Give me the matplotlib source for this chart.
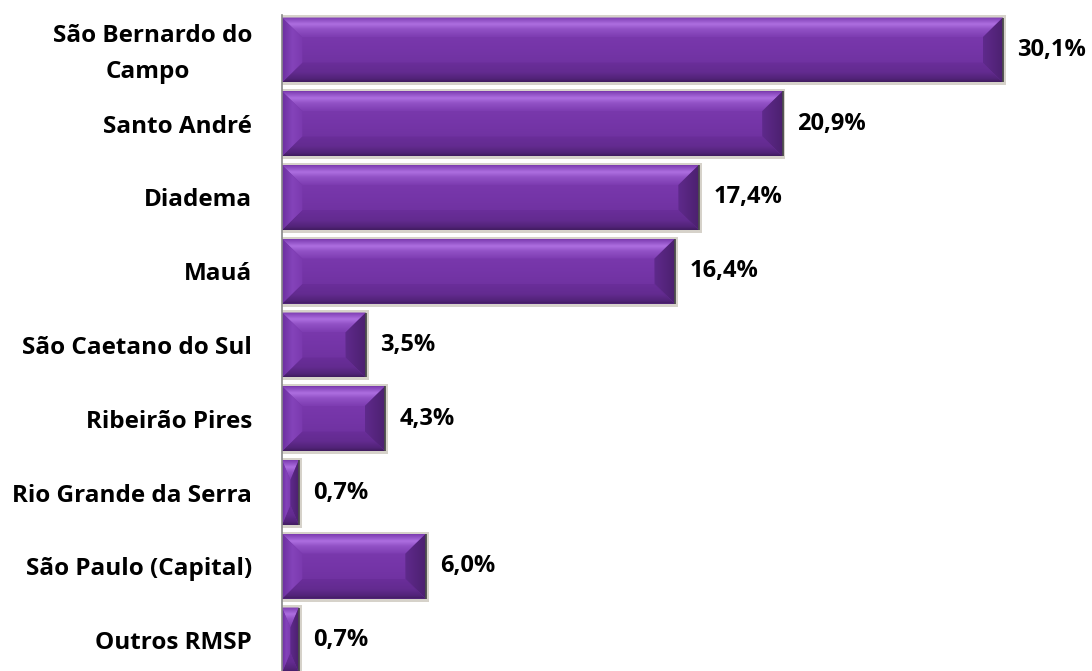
import numpy as np
import matplotlib.pyplot as plt
from matplotlib.patches import Polygon, Rectangle
from matplotlib.colors import to_rgb

plt.rcParams['font.family'] = ['Open Sans', 'DejaVu Sans']

municipios = ['São Bernardo do\nCampo', 'Santo André', 'Diadema', 'Mauá',
              'São Caetano do Sul', 'Ribeirão Pires', 'Rio Grande da Serra',
              'São Paulo (Capital)', 'Outros RMSP']
percentuais = [30.1, 20.9, 17.4, 16.4, 3.5, 4.3, 0.7, 6.0, 0.7]

BAR_H = 0.88
BEV_X = 0.85   # bevel width in data units (x)
BEV_Y = 0.27   # bevel height in data units (y)
FS = 17.5


def gradient_fill(ax, verts, extent, stops, horizontal=False):
    # paint a linear gradient clipped to the polygon given by verts
    n = 64
    t = np.linspace(0, 1, n)
    pos = [s[0] for s in stops]
    cols = np.array([to_rgb(s[1]) for s in stops])
    img = np.stack([np.interp(t, pos, cols[:, k]) for k in range(3)], axis=-1)
    img = img[np.newaxis, :, :] if horizontal else img[:, np.newaxis, :]
    poly = Polygon(verts, closed=True, facecolor='none', edgecolor='none')
    ax.add_patch(poly)
    im = ax.imshow(img, extent=extent, origin='upper', aspect='auto',
                   interpolation='bilinear', zorder=3)
    im.set_clip_path(poly)


def bevel_bar(ax, y, w):
    top = y - BAR_H / 2
    bot = y + BAR_H / 2
    bx = min(BEV_X, w / 2)
    by = BEV_Y
    # soft shadow/frame around the bar
    ax.add_patch(Rectangle((0, top - 0.03), w + 0.12, BAR_H + 0.07,
                           facecolor='#d6d2ca', edgecolor='none', zorder=1))
    ax.add_patch(Rectangle((0, top), w, BAR_H, facecolor='#7636a8',
                           edgecolor='none', zorder=2))
    # face
    gradient_fill(ax, [(bx, top + by), (w - bx, top + by), (w - bx, bot - by), (bx, bot - by)],
                  (0, w, bot, top),
                  [(0, '#7a38ad'), (0.25, '#7a39ad'), (0.5, '#7535a8'),
                   (0.75, '#6f32a0'), (1, '#6a2f99')])
    # top bevel
    gradient_fill(ax, [(0, top), (w, top), (w - bx, top + by), (bx, top + by)],
                  (0, w, top + by, top),
                  [(0, '#7c3bb0'), (0.35, '#ad6fe0'), (0.6, '#9252c6'), (1, '#7d3cb1')])
    # bottom bevel
    gradient_fill(ax, [(bx, bot - by), (w - bx, bot - by), (w, bot), (0, bot)],
                  (0, w, bot, bot - by),
                  [(0, '#6a2e9a'), (0.5, '#632b90'), (0.85, '#512377'), (1, '#3f1b5e')])
    # left bevel
    gradient_fill(ax, [(0, top), (bx, top + by), (bx, bot - by), (0, bot)],
                  (0, bx, bot, top),
                  [(0, '#6c2fa0'), (0.5, '#8443ba'), (1, '#7a39ae')], horizontal=True)
    # right bevel
    gradient_fill(ax, [(w, top), (w - bx, top + by), (w - bx, bot - by), (w, bot)],
                  (w - bx, w, bot, top),
                  [(0, '#5f2a8c'), (1, '#4c206f')], horizontal=True)
    # dark right edge
    ax.plot([w, w], [top, bot], color='#4a4a4a', lw=1.3, zorder=4,
            solid_capstyle='butt')


fig = plt.figure(figsize=(10.92, 6.71), dpi=100)
ax = fig.add_axes([282 / 1092, 0, 1 - 282 / 1092, 1 - 15 / 671])

y = np.arange(len(municipios))
for yi, v in zip(y, percentuais):
    bevel_bar(ax, yi, v)
    ax.text(v + 0.6, yi, f'{v:.1f}%'.replace('.', ','), va='center', ha='left',
            fontsize=17, fontweight='bold', color='black', zorder=5)

ax.set_xlim(0, (1092 - 282) / 23.95)
ax.set_ylim(8 + 31 / 73.75, -35 / 73.75)
ax.set_yticks(y)
# single-line names go on the ticks, the two-line name is placed line by line
ax.set_yticklabels([m if '\n' not in m else '' for m in municipios],
                   fontsize=FS, fontweight='bold', ha='right')
ax.tick_params(axis='y', length=0, pad=21.6)
line_pos = [(-21.6, 10.0), (-66.2, -15.8)]
for yi, m in zip(y, municipios):
    if '\n' in m:
        for line, (dx, dy) in zip(m.split('\n'), line_pos):
            ax.annotate(line, xy=(0, yi), xytext=(dx, dy),
                        textcoords='offset points', ha='right', va='center',
                        fontsize=FS, fontweight='bold', annotation_clip=False)
ax.set_xticks([])
for s in ['top', 'right', 'bottom']:
    ax.spines[s].set_visible(False)
ax.spines['left'].set_color('#888888')
ax.spines['left'].set_linewidth(1.2)
ax.spines['left'].set_zorder(6)

fig.savefig('out.png', dpi=100)
